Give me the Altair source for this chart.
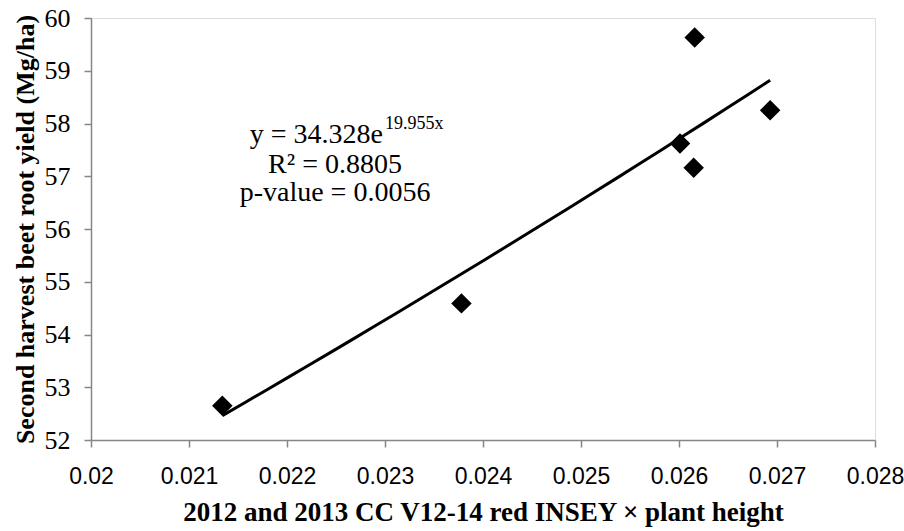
import altair as alt
import pandas as pd

x_vals = [0.02134, 0.02378, 0.02601, 0.02615, 0.02616, 0.02693]
y_vals = [52.65, 54.59, 57.62, 57.16, 59.63, 58.25]

x_ticks = [0.02, 0.021, 0.022, 0.023, 0.024, 0.025, 0.026, 0.027, 0.028]
y_ticks = [52, 53, 54, 55, 56, 57, 58, 59, 60]

ann_main = ["y = 34.328e"]
ann_sup = ["19.955x"]
ann_lines = ["R\u00b2 = 0.8805", "p-value = 0.0056"]

df = pd.DataFrame({"x": x_vals, "y": y_vals})

AX = "#868686"
xscale = alt.Scale(domain=[0.02, 0.028], nice=False, zero=False)
yscale = alt.Scale(domain=[52, 60], nice=False, zero=False)

xax = alt.Axis(title="2012 and 2013 CC V12-14 red INSEY \u00d7 plant height",
               values=x_ticks, format=".3~f", grid=False, domainColor=AX, tickColor=AX,
               domainWidth=1.5, tickWidth=1.5,
               tickSize=7, labelFont="Liberation Sans", labelFontSize=23, labelColor="#000",
               labelPadding=18, titleFont="Liberation Serif", titleFontSize=27,
               titleFontWeight="bold", titleColor="#000", titlePadding=11,
               labelFlush=False)
yax = alt.Axis(title="Second harvest beet root yield (Mg/ha)",
               values=y_ticks, grid=False, domainColor=AX, tickColor=AX,
               domainWidth=1.5, tickWidth=1.5,
               tickSize=7, labelFont="Liberation Serif", labelFontSize=26, labelColor="#000",
               labelPadding=14, titleFont="Liberation Serif", titleFontSize=26,
               titleFontWeight="bold", titleColor="#000", titlePadding=6)

base = alt.Chart(df)

pts = base.mark_point(
    shape="diamond", filled=True, color="black", opacity=1, size=420
).encode(x=alt.X("x:Q", scale=xscale, axis=xax), y=alt.Y("y:Q", scale=yscale, axis=yax))

trend = base.transform_regression("x", "y", method="exp").mark_line(
    color="black", strokeWidth=3
).encode(x=alt.X("x:Q", scale=xscale), y=alt.Y("y:Q", scale=yscale))

ann1 = alt.Chart(pd.DataFrame({"x": [0.02298], "y": [57.78], "t": ann_main})).mark_text(
    font="Liberation Serif", fontSize=28, align="right", baseline="middle", color="black"
).encode(x=alt.X("x:Q", scale=xscale), y=alt.Y("y:Q", scale=yscale), text="t:N")

ann2 = alt.Chart(pd.DataFrame({"x": [0.02300], "y": [58.00], "t": ann_sup})).mark_text(
    font="Liberation Serif", fontSize=18, align="left", baseline="middle", color="black"
).encode(x=alt.X("x:Q", scale=xscale), y=alt.Y("y:Q", scale=yscale), text="t:N")

ann3 = alt.Chart(pd.DataFrame({"x": [0.02249, 0.02249], "y": [57.21, 56.68], "t": ann_lines})).mark_text(
    font="Liberation Serif", fontSize=28, align="center", baseline="middle", color="black"
).encode(x=alt.X("x:Q", scale=xscale), y=alt.Y("y:Q", scale=yscale), text="t:N")

chart = alt.layer(trend, pts, ann1, ann2, ann3).properties(
    width=784, height=422,
    padding={"left": 91, "top": 18, "right": 29, "bottom": 91},
    autosize=alt.AutoSizeParams(type="none"),
).configure_view(stroke=None).configure(background="white")

chart.save("out.html", embed_options={"renderer": "svg", "actions": False})
